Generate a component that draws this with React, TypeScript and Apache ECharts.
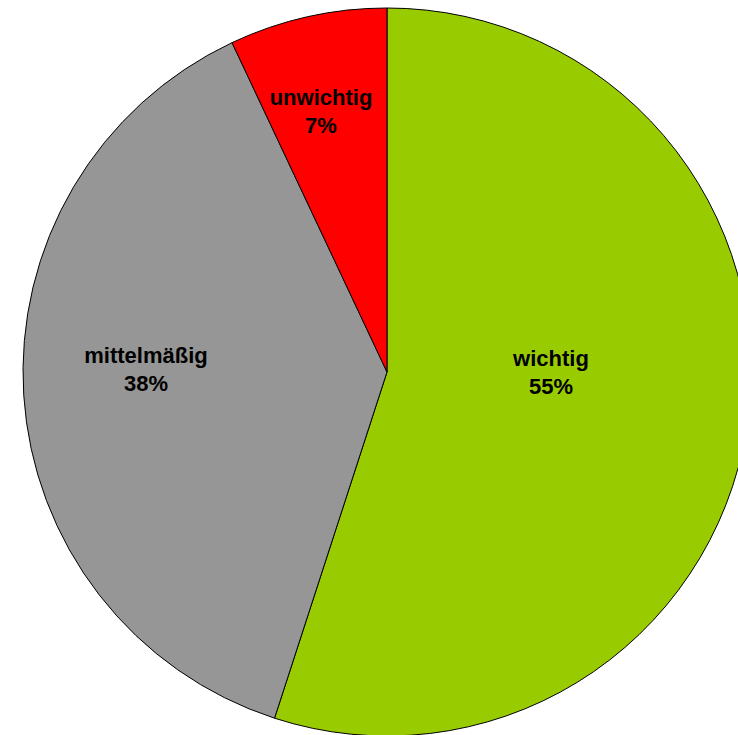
import React, { useEffect, useRef } from "react";
import * as echarts from "echarts";

const categories = ["wichtig", "mittelmäßig", "unwichtig"];
const values = [55, 38, 7];
const colors = ["#99CC00", "#969696", "#FF0000"];
const labelPos = [
  [551, 372],
  [146, 369],
  [321, 111],
];

export default function App() {
  const ref = useRef<HTMLDivElement>(null);
  useEffect(() => {
    const chart = echarts.init(ref.current!, null, { renderer: "svg" });
    chart.setOption({
      animation: false,
      backgroundColor: "#ffffff",
      series: [
        {
          type: "pie",
          center: [387, 372],
          radius: 364,
          startAngle: 90,
          clockwise: true,
          avoidLabelOverlap: false,
          data: categories.map((name, i) => ({
            name,
            value: values[i],
            itemStyle: { color: colors[i] },
          })),
          itemStyle: { borderColor: "#000000", borderWidth: 1 },
          label: {
            show: true,
            position: "inside",
            formatter: (p: any) => `${p.name}\n${Math.round(p.percent)}%`,
            fontFamily: "Liberation Sans, Arial, sans-serif",
            fontWeight: "bold",
            fontSize: 22,
            lineHeight: 28,
            color: "#000000",
            align: "center",
          },
          labelLayout: (p: any) => ({
            x: labelPos[p.dataIndex][0],
            y: labelPos[p.dataIndex][1],
          }),
          emphasis: { disabled: true },
        },
      ],
    });
    return () => chart.dispose();
  }, []);
  return (
    <div
      ref={ref}
      style={{ position: "fixed", left: 0, top: 0, width: 738, height: 735 }}
    />
  );
}
